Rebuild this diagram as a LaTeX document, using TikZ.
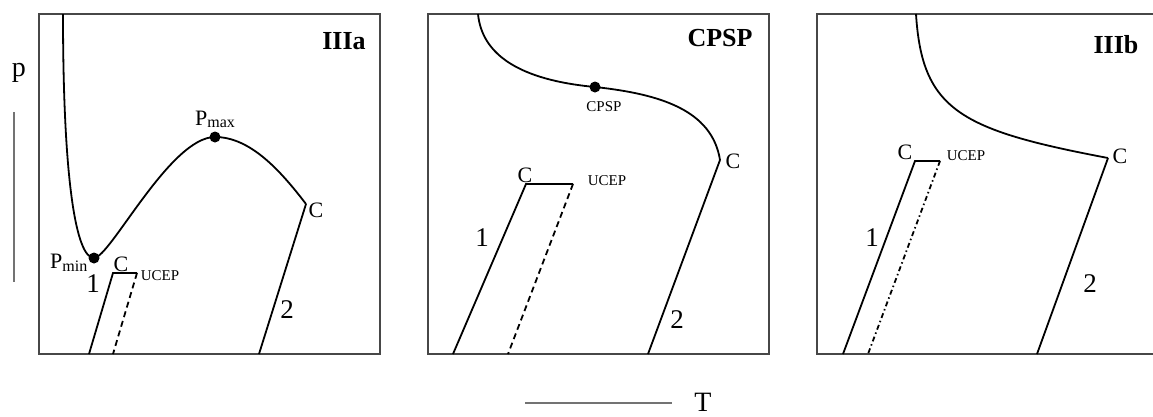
\documentclass[tikz,border=0pt]{standalone}
\usepackage{fontspec}
\setmainfont{Liberation Serif}
\begin{document}
\begin{tikzpicture}[x=1pt,y=-1pt,
  frame/.style={draw=black!72,line width=2.3pt},
  curve/.style={draw=black,line width=1.8pt},
  axisline/.style={draw=black!55,line width=2.3pt},
  dashline/.style={draw=black,line width=1.8pt,dash pattern=on 6pt off 4pt},
  dotdash/.style={draw=black,line width=1.8pt,dash pattern=on 5pt off 3pt on 1.5pt off 3pt},
  title/.style={font=\fontsize{26}{26}\selectfont\bfseries,inner sep=0pt},
  num/.style={font=\fontsize{27}{27}\selectfont,inner sep=0pt},
  clab/.style={font=\fontsize{22}{22}\selectfont,inner sep=0pt},
  small/.style={font=\fontsize{15}{15}\selectfont,inner sep=0pt},
  axlab/.style={font=\fontsize{28}{28}\selectfont,inner sep=0pt},
  pt/.style={fill=black}]
\useasboundingbox (0,0) rectangle (1153,416);
\fill[white] (0,0) rectangle (1153,416);

% axis hints
\node[axlab] (plab) at (19,73) {p};
\coordinate (pa) at (14,112);
\coordinate (pb) at (14,282);
\draw[axisline] (pa) -- (pb);
\coordinate (ta) at (525,403);
\coordinate (tb) at (672,403);
\draw[axisline] (ta) -- (tb);
\node[axlab,anchor=north] (tlab) at (703,393) {T};

% ---------- panel IIIa ----------
\draw[frame] (39,14) rectangle (380,354);
\node[title] (ta1) at (344,41) {IIIa};
\coordinate (a0) at (63,14);
\coordinate (amin) at (94,258);
\coordinate (amax) at (215,137);
\coordinate (ac) at (306,204);
\coordinate (ab2) at (259,354);
\draw[curve] (a0) .. controls (63,180) and (76,258) .. (amin)
  .. controls (110,258) and (170,137) .. (amax)
  .. controls (250,137) and (280,170) .. (ac);
\draw[curve] (ac) -- (ab2);
\fill[pt] (amin) circle (5.5);
\fill[pt] (amax) circle (5.5);
\coordinate (a1b) at (89,354);
\coordinate (a1c) at (113,273);
\coordinate (a1u) at (137,273);
\coordinate (a1d) at (113,354);
\draw[curve] (a1b) -- (a1c) -- (a1u);
\draw[dashline] (a1u) -- (a1d);
\node[anchor=base west,inner sep=0pt] (lpmin) at (50,268)
  {\fontsize{22}{22}\selectfont P\raisebox{-3pt}{\fontsize{16}{16}\selectfont min}};
\node[anchor=base west,inner sep=0pt] (lpmax) at (195,125)
  {\fontsize{22}{22}\selectfont P\raisebox{-2pt}{\fontsize{16}{16}\selectfont max}};
\node[clab] (ac1) at (121,264) {C};
\node[small] (au) at (160,276) {UCEP};
\node[clab] (ac2) at (316,210) {C};
\node[num] (an1) at (93,284) {1};
\node[num] (an2) at (287,310) {2};

% ---------- panel CPSP ----------
\draw[frame] (428,14) rectangle (769,354);
\node[title] (tb1) at (720,38) {CPSP};
\coordinate (b0) at (478,14);
\coordinate (bcp) at (595,87);
\coordinate (bc) at (720,160);
\coordinate (bb2) at (648,354);
\draw[curve] (b0) .. controls (482,55) and (520,80) .. (bcp)
  .. controls (660,94) and (712,110) .. (bc);
\draw[curve] (bc) -- (bb2);
\fill[pt] (bcp) circle (5.5);
\coordinate (b1b) at (453,354);
\coordinate (b1c) at (526,184);
\coordinate (b1u) at (573,184);
\coordinate (b1d) at (508,354);
\draw[curve] (b1b) -- (b1c) -- (b1u);
\draw[dashline] (b1u) -- (b1d);
\node[small] (bcps) at (604,107) {CPSP};
\node[clab] (bc1) at (525,175) {C};
\node[small] (bu) at (607,181) {UCEP};
\node[clab] (bc2) at (733,161) {C};
\node[num] (bn1) at (482,238) {1};
\node[num] (bn2) at (677,320) {2};

% ---------- panel IIIb ----------
\draw[frame] (817,14) rectangle (1160,354);
\node[title] (tc1) at (1116,45) {IIIb};
\coordinate (c0) at (916,14);
\coordinate (cc) at (1108,158);
\coordinate (cb2) at (1037,354);
\draw[curve] (c0) .. controls (922,110) and (960,130) .. (cc);
\draw[curve] (cc) -- (cb2);
\coordinate (c1b) at (843,354);
\coordinate (c1c) at (915,161);
\coordinate (c1u) at (940,161);
\coordinate (c1d) at (868,354);
\draw[curve] (c1b) -- (c1c) -- (c1u);
\draw[dotdash] (c1u) -- (c1d);
\node[clab] (cc1) at (905,152) {C};
\node[small] (cu) at (966,156) {UCEP};
\node[clab] (cc2) at (1120,156) {C};
\node[num] (cn1) at (872,238) {1};
\node[num] (cn2) at (1090,284) {2};
\end{tikzpicture}
\end{document}
